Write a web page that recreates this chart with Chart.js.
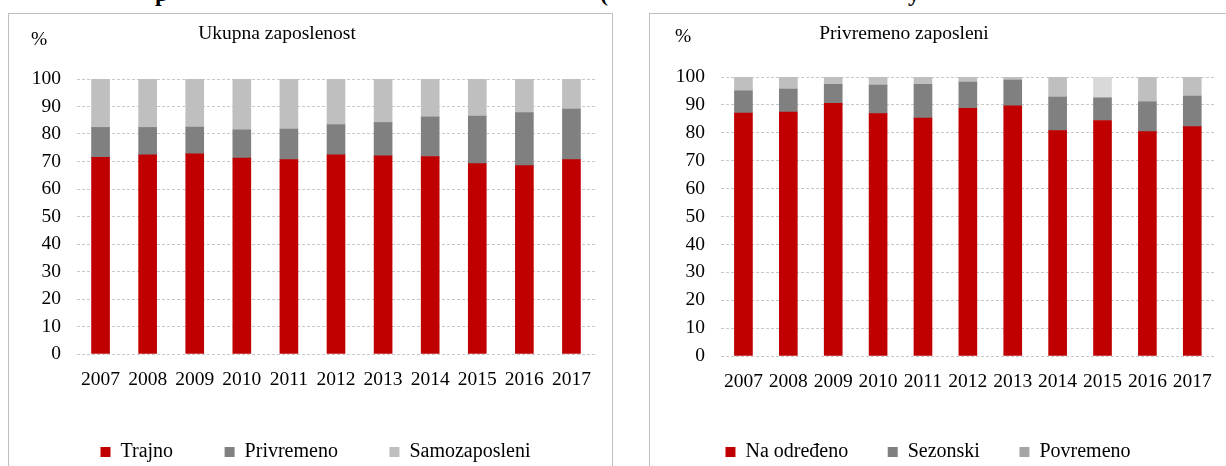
<!DOCTYPE html>
<html>
<head>
<meta charset="utf-8">
<script src="https://cdn.jsdelivr.net/npm/chart.js@4.4.1/dist/chart.umd.min.js"></script>
<style>
  body { margin: 0; width: 1226px; height: 466px; overflow: hidden; background: #fff; position: relative; font-family: "Liberation Serif", serif; }
  .panel { position: absolute; top: 13px; height: 470px; border-top: 1px solid #bfbfbf; border-left: 1px solid #bfbfbf; box-sizing: border-box; }
  canvas { position: absolute; top: 13px; }
  .lbl { position: absolute; font-size: 19.5px; color: #000; white-space: nowrap; line-height: 1; }
  .cut { position: absolute; font-size: 24px; font-weight: bold; top: -19px; line-height: 1; }
</style>
</head>
<body>
<span class="cut" style="left:155px">p</span>
<span class="cut" style="left:600px">(</span>
<span class="cut" style="left:908px">y</span>

<div class="panel" style="left:8px;width:605px;border-right:1px solid #bfbfbf"></div>
<div class="panel" style="left:649px;width:600px"></div>

<canvas id="ukupna" width="604" height="459" style="left:8px"></canvas>
<canvas id="privremeno" width="591" height="459" style="left:635px"></canvas>

<span class="lbl" style="left:31px;top:29px">%</span>
<span class="lbl" style="left:277px;top:23px;transform:translateX(-50%)">Ukupna zaposlenost</span>
<span class="lbl" style="left:675px;top:26px">%</span>
<span class="lbl" style="left:904px;top:23px;transform:translateX(-50%)">Privremeno zaposleni</span>

<script>
// data (percent)
const years = ['2007', '2008', '2009', '2010', '2011', '2012', '2013', '2014', '2015', '2016', '2017'];

// Ukupna zaposlenost
const trajno        = [71.5, 72.4, 72.8, 71.2, 70.7, 72.4, 72.1, 71.8, 69.2, 68.5, 70.7];
const privremeno    = [10.9, 10.0,  9.7, 10.3, 11.1, 11.0, 12.1, 14.4, 17.3, 19.3, 18.4];
const samozaposleni = [17.6, 17.6, 17.5, 18.5, 18.2, 16.6, 15.8, 13.8, 13.5, 12.2, 10.9];

// Privremeno zaposleni
const naOdredjeno = [87.1, 87.4, 90.6, 86.9, 85.3, 88.8, 89.7, 80.8, 84.4, 80.4, 82.2];
const sezonski    = [ 7.9,  8.3,  6.8, 10.2, 12.1,  9.4,  9.2, 12.0,  8.1, 10.7, 11.0];
const povremeno   = [ 5.0,  4.3,  2.6,  2.9,  2.6,  1.8,  1.1,  7.2,  7.5,  8.9,  6.8];

const yMin = 0, yMax = 100, yStep = 10;

const RED = '#c00000', DARK = '#808080', LIGHT = '#bfbfbf';
const FONT = '"Liberation Serif", serif';

// pad = [left, right, top], axis = [y axis width, x axis height]
function makeChart(id, datasets, pad, axis, legendGap, legendShift) {
  const ctx = document.getElementById(id).getContext('2d');
  return new Chart(ctx, {
    type: 'bar',
    data: { labels: years, datasets: datasets },
    plugins: [{
      // excel puts the legend a bit off centre
      id: 'legendShift',
      afterLayout: function (chart) {
        chart.legend.left += legendShift;
        chart.legend.right += legendShift;
      }
    }],
    options: {
      responsive: false,
      animation: false,
      layout: { padding: { left: pad[0], right: pad[1], top: pad[2], bottom: 0 } },
      datasets: { bar: { barThickness: 18, borderWidth: 0 } },
      scales: {
        x: {
          stacked: true,
          grid: { display: false, drawTicks: false },
          border: { display: false },
          ticks: { color: '#000', font: { family: FONT, size: 19.5 }, padding: 14, maxRotation: 0, autoSkip: false },
          afterFit: function (a) { a.height = axis[1]; }
        },
        y: {
          stacked: true,
          min: yMin, max: yMax,
          grid: { color: '#c8c8c8', drawTicks: false },
          border: { display: false, dash: [3, 2] },
          ticks: { stepSize: yStep, color: '#000', font: { family: FONT, size: 19.5 }, padding: 16 },
          afterFit: function (a) { a.width = axis[0]; }
        }
      },
      plugins: {
        tooltip: { enabled: false },
        legend: {
          position: 'bottom',
          labels: {
            boxWidth: 10, boxHeight: 10, padding: legendGap,
            color: '#000', font: { family: FONT, size: 20 },
            generateLabels: function (chart) {
              return chart.data.datasets.map(function (ds, i) {
                return { text: ds.label, fillStyle: ds.legendColor, strokeStyle: ds.legendColor, lineWidth: 0, datasetIndex: i, hidden: false };
              });
            }
          }
        }
      }
    }
  });
}

makeChart('ukupna', [
  { label: 'Trajno', data: trajno, backgroundColor: RED, legendColor: RED },
  { label: 'Privremeno', data: privremeno, backgroundColor: DARK, legendColor: DARK },
  { label: 'Samozaposleni', data: samozaposleni, backgroundColor: LIGHT, legendColor: LIGHT }
], [0, 17, 66], [69, 36.5], 51.5, 14);

makeChart('privremeno', [
  { label: 'Na određeno', data: naOdredjeno, backgroundColor: RED, legendColor: RED },
  { label: 'Sezonski', data: sezonski, backgroundColor: DARK, legendColor: DARK },
  { label: 'Povremeno', data: povremeno,
    backgroundColor: [LIGHT, LIGHT, LIGHT, LIGHT, LIGHT, LIGHT, LIGHT, LIGHT, '#d9d9d9', LIGHT, LIGHT],
    legendColor: '#a5a5a5' }
], [0, 5, 64], [86, 46.5], 39.5, 0);
</script>
</body>
</html>
